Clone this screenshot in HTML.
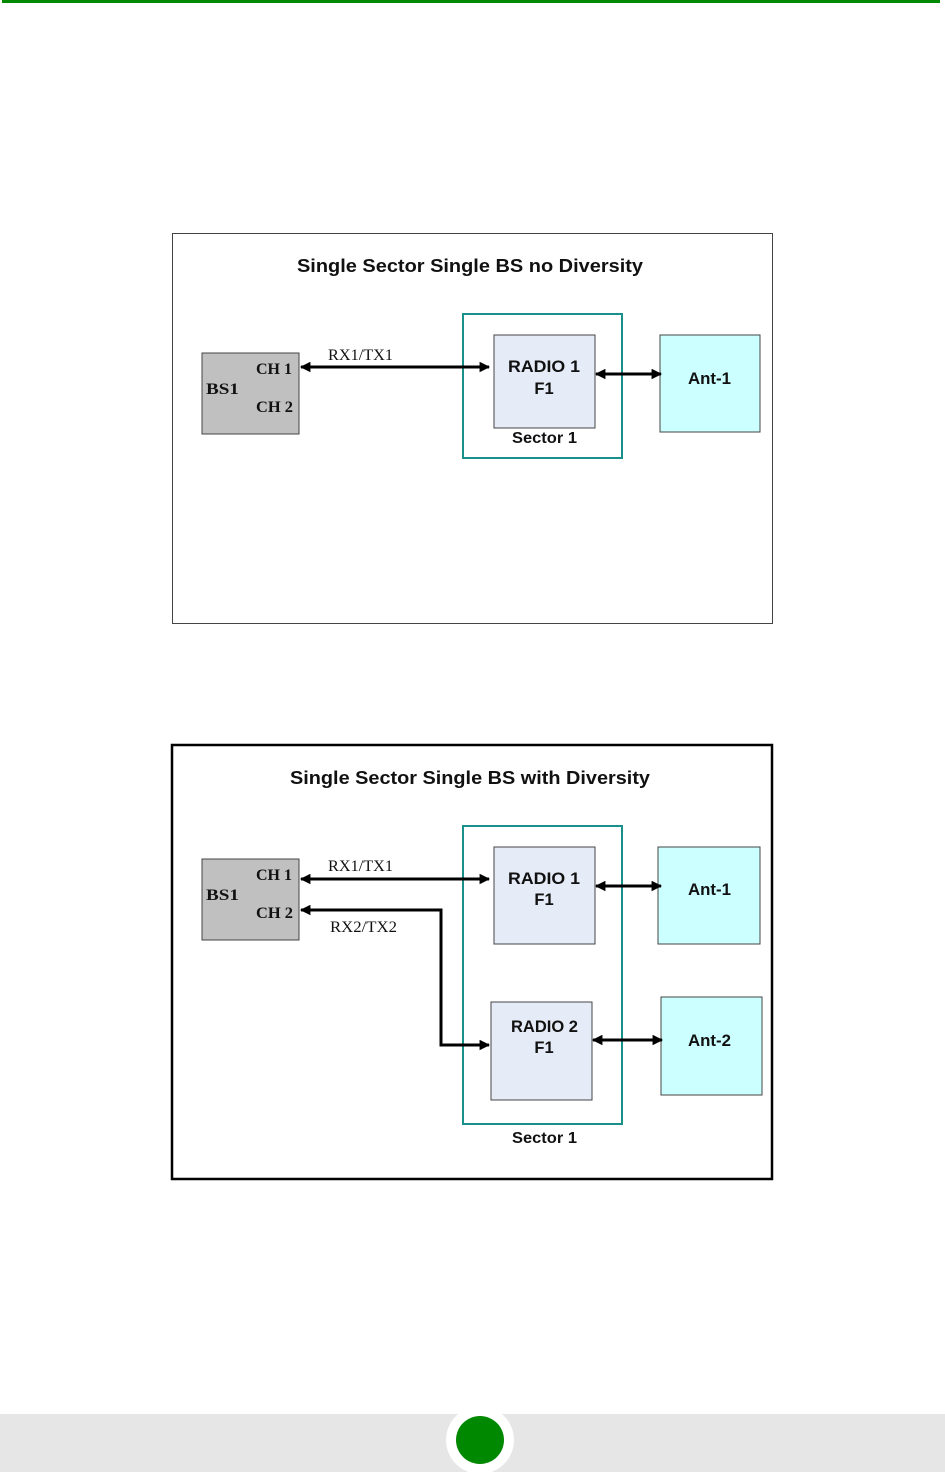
<!DOCTYPE html>
<html><head><meta charset="utf-8"><style>
html,body{margin:0;padding:0;background:#fff;}
svg{display:block;}
.t{font-family:"Liberation Sans",sans-serif;font-weight:bold;fill:#111;}
.s{font-family:"Liberation Serif",serif;font-weight:bold;fill:#111;}
.sr{font-family:"Liberation Serif",serif;fill:#111;}
</style></head><body>
<svg width="945" height="1472" viewBox="0 0 945 1472" xmlns="http://www.w3.org/2000/svg">
<defs>
<marker id="a" viewBox="0 0 10 10" refX="9" refY="5" markerWidth="4" markerHeight="3.5" orient="auto-start-reverse"><path d="M0,0 L10,5 L0,10 z" fill="#000"/></marker>
</defs>
<rect x="2" y="0" width="938" height="3" fill="#008800"/>

<!-- Diagram 1 -->
<rect x="172.5" y="233.5" width="600" height="390" fill="#fff" stroke="#444" stroke-width="1"/>
<text class="t" x="297" y="272" font-size="18.5" textLength="346" lengthAdjust="spacingAndGlyphs">Single Sector Single BS no Diversity</text>
<rect x="202" y="353" width="97" height="81" fill="#c0c0c0" stroke="#444"/>
<text class="s" x="256" y="374" font-size="16" textLength="36" lengthAdjust="spacingAndGlyphs">CH 1</text>
<text class="s" x="206" y="394" font-size="16" textLength="33" lengthAdjust="spacingAndGlyphs">BS1</text>
<text class="s" x="256" y="412" font-size="16" textLength="37" lengthAdjust="spacingAndGlyphs">CH 2</text>
<rect x="463" y="314" width="159" height="144" fill="none" stroke="#199089" stroke-width="2"/>
<rect x="494" y="335" width="101" height="93" fill="#e6ecf7" stroke="#444"/>
<text class="t" x="508" y="372" font-size="16.5" textLength="72" lengthAdjust="spacingAndGlyphs">RADIO 1</text>
<text class="t" x="544" y="394" font-size="16.5" text-anchor="middle">F1</text>
<text class="t" x="512" y="443" font-size="15.5" textLength="65" lengthAdjust="spacingAndGlyphs">Sector 1</text>
<rect x="660" y="335" width="100" height="97" fill="#ccffff" stroke="#444"/>
<text class="t" x="688" y="384" font-size="16.5" textLength="43" lengthAdjust="spacingAndGlyphs">Ant-1</text>
<text class="sr" x="328" y="360" font-size="15.5" textLength="65" lengthAdjust="spacingAndGlyphs">RX1/TX1</text>
<line x1="301" y1="367" x2="489" y2="367" stroke="#000" stroke-width="3" marker-start="url(#a)" marker-end="url(#a)"/>
<line x1="596" y1="374" x2="661" y2="374" stroke="#000" stroke-width="3" marker-start="url(#a)" marker-end="url(#a)"/>

<!-- Diagram 2 -->
<rect x="172" y="745" width="600" height="434" fill="#fff" stroke="#000" stroke-width="2.5"/>
<text class="t" x="290" y="784" font-size="18.5" textLength="360" lengthAdjust="spacingAndGlyphs">Single Sector Single BS with Diversity</text>
<rect x="202" y="859" width="97" height="81" fill="#c0c0c0" stroke="#444"/>
<text class="s" x="256" y="880" font-size="16" textLength="36" lengthAdjust="spacingAndGlyphs">CH 1</text>
<text class="s" x="206" y="900" font-size="16" textLength="33" lengthAdjust="spacingAndGlyphs">BS1</text>
<text class="s" x="256" y="918" font-size="16" textLength="37" lengthAdjust="spacingAndGlyphs">CH 2</text>
<rect x="463" y="826" width="159" height="298" fill="none" stroke="#199089" stroke-width="2"/>
<rect x="494" y="847" width="101" height="97" fill="#e6ecf7" stroke="#444"/>
<text class="t" x="508" y="884" font-size="16.5" textLength="72" lengthAdjust="spacingAndGlyphs">RADIO 1</text>
<text class="t" x="544" y="905" font-size="16.5" text-anchor="middle">F1</text>
<rect x="491" y="1002" width="101" height="98" fill="#e6ecf7" stroke="#444"/>
<text class="t" x="511" y="1032" font-size="16.5" textLength="67" lengthAdjust="spacingAndGlyphs">RADIO 2</text>
<text class="t" x="544" y="1053" font-size="16.5" text-anchor="middle">F1</text>
<text class="t" x="512" y="1143" font-size="15.5" textLength="65" lengthAdjust="spacingAndGlyphs">Sector 1</text>
<rect x="658" y="847" width="102" height="97" fill="#ccffff" stroke="#444"/>
<text class="t" x="688" y="895" font-size="16.5" textLength="43" lengthAdjust="spacingAndGlyphs">Ant-1</text>
<rect x="661" y="997" width="101" height="98" fill="#ccffff" stroke="#444"/>
<text class="t" x="688" y="1046" font-size="16.5" textLength="43" lengthAdjust="spacingAndGlyphs">Ant-2</text>
<text class="sr" x="328" y="871" font-size="15.5" textLength="65" lengthAdjust="spacingAndGlyphs">RX1/TX1</text>
<text class="sr" x="330" y="932" font-size="15.5" textLength="67" lengthAdjust="spacingAndGlyphs">RX2/TX2</text>
<line x1="301" y1="879" x2="489" y2="879" stroke="#000" stroke-width="3" marker-start="url(#a)" marker-end="url(#a)"/>
<path d="M301,910 L441,910 L441,1045 L489,1045" fill="none" stroke="#000" stroke-width="3" marker-start="url(#a)" marker-end="url(#a)"/>
<line x1="596" y1="886" x2="661" y2="886" stroke="#000" stroke-width="3" marker-start="url(#a)" marker-end="url(#a)"/>
<line x1="593" y1="1040" x2="662" y2="1040" stroke="#000" stroke-width="3" marker-start="url(#a)" marker-end="url(#a)"/>

<!-- footer -->
<rect x="0" y="1414" width="945" height="58" fill="#e6e6e6"/>
<circle cx="480" cy="1440" r="34" fill="#fff"/>
<circle cx="480" cy="1440" r="24" fill="#008800"/>
</svg>
</body></html>
